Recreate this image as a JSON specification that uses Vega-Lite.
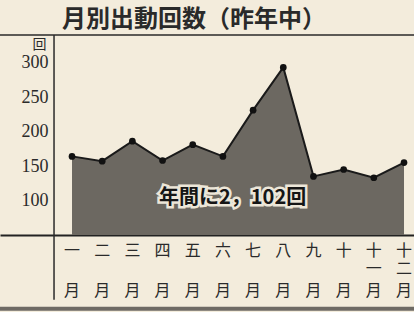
{
  "$schema": "https://vega.github.io/schema/vega-lite/v6.json",
  "width": 414,
  "height": 200,
  "autosize": "none",
  "padding": {"top": 35, "left": 0, "right": 0, "bottom": 77},
  "background": "#f3ecdc",
  "view": {"stroke": null},
  "title": {
    "text": "月別出動回数（昨年中）",
    "font": "Noto Sans CJK JP",
    "fontSize": 24,
    "fontWeight": "bold",
    "color": "#2a2a2a",
    "anchor": "start",
    "frame": "group",
    "dx": 62,
    "baseline": "bottom",
    "offset": -22
  },
  "datasets": {
    "monthly": [
      {"month": 1, "count": 164, "label": "一"},
      {"month": 2, "count": 157, "label": "二"},
      {"month": 3, "count": 186, "label": "三"},
      {"month": 4, "count": 158, "label": "四"},
      {"month": 5, "count": 181, "label": "五"},
      {"month": 6, "count": 164, "label": "六"},
      {"month": 7, "count": 231, "label": "七"},
      {"month": 8, "count": 293, "label": "八"},
      {"month": 9, "count": 135, "label": "九"},
      {"month": 10, "count": 145, "label": "十"},
      {"month": 11, "count": 133, "label": "十|一"},
      {"month": 12, "count": 155, "label": "十|二"}
    ],
    "note": [{"month": 6.32, "count": 104, "text": "年間に2，102回"}]
  },
  "layer": [
    {
      "data": {"name": "monthly"},
      "mark": {"type": "area", "color": "#6c6861", "opacity": 1},
      "encoding": {
        "x": {
          "field": "month",
          "type": "quantitative",
          "scale": {"domain": [-1.386, 12.331], "nice": false, "zero": false},
          "axis": {
            "orient": "bottom",
            "title": null,
            "labels": false,
            "ticks": false,
            "grid": false,
            "domain": true,
            "domainColor": "#222222",
            "domainWidth": 2
          }
        },
        "y": {
          "field": "count",
          "type": "quantitative",
          "scale": {"domain": [50, 340], "nice": false, "zero": false},
          "axis": {
            "orient": "left",
            "offset": -54,
            "values": [100, 150, 200, 250, 300],
            "ticks": false,
            "grid": false,
            "domain": false,
            "labelFont": "Liberation Serif",
            "labelFontSize": 18,
            "labelPadding": 6,
            "labelColor": "#2a2a2a",
            "title": "回",
            "titleAngle": 0,
            "titleFont": "Noto Sans CJK JP",
            "titleFontSize": 14,
            "titleFontWeight": "normal",
            "titleColor": "#2a2a2a",
            "titleAlign": "center",
            "titleBaseline": "middle",
            "titleX": -15,
            "titleY": 9
          }
        },
        "y2": {"datum": 50}
      }
    },
    {
      "data": {"name": "monthly"},
      "mark": {"type": "line", "color": "#1a1a1a", "strokeWidth": 2},
      "encoding": {
        "x": {"field": "month", "type": "quantitative"},
        "y": {"field": "count", "type": "quantitative"}
      }
    },
    {
      "data": {"name": "monthly"},
      "mark": {"type": "point", "filled": true, "color": "#111111", "size": 45, "opacity": 1},
      "encoding": {
        "x": {"field": "month", "type": "quantitative"},
        "y": {"field": "count", "type": "quantitative"}
      }
    },
    {
      "data": {"name": "monthly"},
      "mark": {
        "type": "text",
        "font": "Noto Sans CJK JP",
        "fontSize": 16,
        "lineBreak": "|",
        "lineHeight": 18,
        "align": "center",
        "baseline": "top",
        "color": "#2a2a2a"
      },
      "encoding": {
        "x": {"field": "month", "type": "quantitative"},
        "y": {"datum": 38.5, "type": "quantitative"},
        "text": {"field": "label"}
      }
    },
    {
      "data": {"name": "monthly"},
      "mark": {
        "type": "text",
        "font": "Noto Sans CJK JP",
        "fontSize": 16,
        "align": "center",
        "baseline": "top",
        "color": "#2a2a2a",
        "text": "月"
      },
      "encoding": {
        "x": {"field": "month", "type": "quantitative"},
        "y": {"datum": -19, "type": "quantitative"}
      }
    },
    {
      "data": {"values": [{}]},
      "mark": {"type": "rule", "color": "#2a2a2a", "strokeWidth": 1.5},
      "encoding": {
        "x": {"datum": -1.386, "type": "quantitative"},
        "x2": {"datum": 12.331},
        "y": {"datum": 340, "type": "quantitative"}
      }
    },
    {
      "data": {"values": [{}]},
      "mark": {"type": "rule", "color": "#6e6a64", "strokeWidth": 4},
      "encoding": {
        "x": {"datum": -1.386, "type": "quantitative"},
        "x2": {"datum": 12.331},
        "y": {"datum": -57, "type": "quantitative"}
      }
    },
    {
      "data": {"values": [{}]},
      "mark": {"type": "rule", "color": "#2a2a2a", "strokeWidth": 1.5},
      "encoding": {
        "x": {"datum": 0.404, "type": "quantitative"},
        "y": {"datum": 340, "type": "quantitative"},
        "y2": {"datum": -44}
      }
    },
    {
      "data": {"name": "note"},
      "mark": {
        "type": "text",
        "font": "Noto Sans CJK JP",
        "fontSize": 20,
        "fontWeight": "bold",
        "align": "center",
        "baseline": "middle",
        "stroke": "#ece6d8",
        "strokeWidth": 5,
        "color": "#ece6d8"
      },
      "encoding": {
        "x": {"field": "month", "type": "quantitative"},
        "y": {"field": "count", "type": "quantitative"},
        "text": {"field": "text"}
      }
    },
    {
      "data": {"name": "note"},
      "mark": {
        "type": "text",
        "font": "Noto Sans CJK JP",
        "fontSize": 20,
        "fontWeight": "bold",
        "align": "center",
        "baseline": "middle",
        "color": "#151515"
      },
      "encoding": {
        "x": {"field": "month", "type": "quantitative"},
        "y": {"field": "count", "type": "quantitative"},
        "text": {"field": "text"}
      }
    }
  ]
}
